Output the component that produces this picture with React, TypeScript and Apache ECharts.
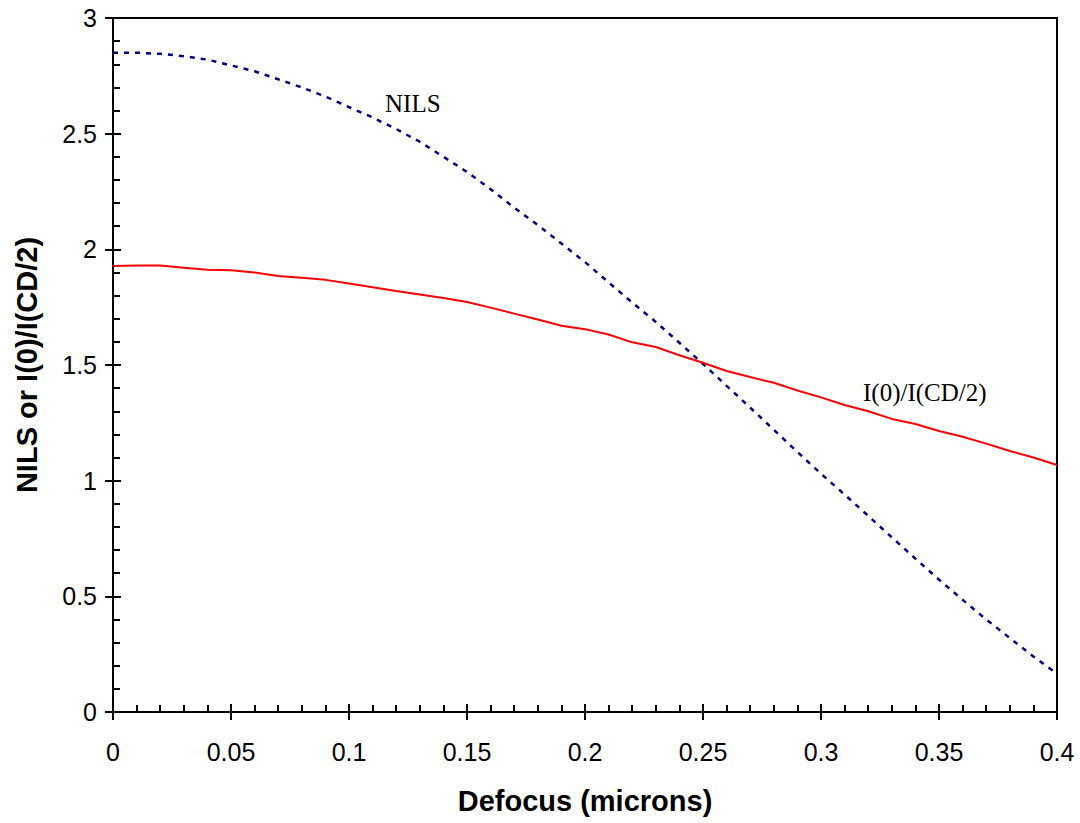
import React, { useEffect, useRef } from "react";
import * as echarts from "echarts";

const defocus = [
  0, 0.01, 0.02, 0.03, 0.04, 0.05, 0.06, 0.07, 0.08, 0.09,
  0.1, 0.11, 0.12, 0.13, 0.14, 0.15, 0.16, 0.17, 0.18, 0.19,
  0.2, 0.21, 0.22, 0.23, 0.24, 0.25, 0.26, 0.27, 0.28, 0.29,
  0.3, 0.31, 0.32, 0.33, 0.34, 0.35, 0.36, 0.37, 0.38, 0.39, 0.4,
];

const nils = [
  2.85, 2.85, 2.845, 2.835, 2.82, 2.795, 2.77, 2.735, 2.7, 2.66,
  2.615, 2.57, 2.52, 2.465, 2.4, 2.335, 2.26, 2.18, 2.105, 2.025,
  1.945, 1.857, 1.77, 1.686, 1.596, 1.505, 1.41, 1.316, 1.22, 1.124,
  1.03, 0.94, 0.848, 0.755, 0.663, 0.572, 0.485, 0.4, 0.32, 0.24, 0.165,
];

const intensityRatio = [
  1.928, 1.93, 1.93, 1.92, 1.912, 1.91, 1.9, 1.885, 1.877, 1.868,
  1.852, 1.836, 1.82, 1.805, 1.79, 1.772, 1.748, 1.722, 1.697, 1.67,
  1.655, 1.632, 1.598, 1.578, 1.542, 1.51, 1.474, 1.448, 1.423, 1.39,
  1.36, 1.327, 1.3, 1.267, 1.245, 1.215, 1.19, 1.16, 1.128, 1.1, 1.068,
];

const xTitle = "Defocus (microns)";
const yTitle = "NILS or I(0)/I(CD/2)";
const nilsLabel = "NILS";
const ratioLabel = "I(0)/I(CD/2)";

export default function App() {
  const ref = useRef<HTMLDivElement>(null);
  useEffect(() => {
    if (!ref.current) return;
    const chart = echarts.init(ref.current, null, { renderer: "svg" });
    const axisLine = { show: true, lineStyle: { color: "#000", width: 2 } };
    const labelFont = { color: "#000", fontFamily: "Liberation Sans, Arial, sans-serif", fontSize: 25 };
    const titleFont = { color: "#000", fontFamily: "Liberation Sans, Arial, sans-serif", fontWeight: "bold", fontSize: 29 };
    chart.setOption({
      animation: false,
      backgroundColor: "#fff",
      grid: {
        left: 113, right: 23, top: 18, bottom: 111,
        show: true, borderColor: "#000", borderWidth: 2, containLabel: false,
      },
      xAxis: [
        {
          type: "value", position: "bottom", min: 0, max: 0.4, interval: 0.05,
          axisLine,
          axisTick: { show: true, inside: false, length: 8, lineStyle: { color: "#000", width: 2 } },
          axisLabel: { ...labelFont, margin: 27 },
          splitLine: { show: false },
          name: xTitle, nameLocation: "middle", nameGap: 74,
          nameTextStyle: titleFont,
        },
        {
          type: "value", position: "bottom", min: 0, max: 0.4, interval: 0.05,
          axisLine,
          axisTick: { show: true, inside: true, length: 8, lineStyle: { color: "#000", width: 2 } },
          minorTick: { show: true, splitNumber: 5, length: 7, lineStyle: { color: "#000", width: 2 } },
          axisLabel: { show: false },
          splitLine: { show: false },
        },
      ],
      yAxis: [
        {
          type: "value", position: "left", min: 0, max: 3, interval: 0.5,
          axisLine,
          axisTick: { show: true, inside: false, length: 8, lineStyle: { color: "#000", width: 2 } },
          axisLabel: { ...labelFont, margin: 16 },
          splitLine: { show: false },
          name: yTitle, nameLocation: "middle", nameGap: 72,
          nameTextStyle: titleFont,
        },
        {
          type: "value", position: "left", min: 0, max: 3, interval: 0.5,
          axisLine,
          axisTick: { show: true, inside: true, length: 8, lineStyle: { color: "#000", width: 2 } },
          minorTick: { show: true, splitNumber: 5, length: 7, lineStyle: { color: "#000", width: 2 } },
          axisLabel: { show: false },
          splitLine: { show: false },
        },
      ],
      series: [
        {
          name: nilsLabel, type: "line", xAxisIndex: 0, yAxisIndex: 0,
          data: defocus.map((x, i) => [x, nils[i]]),
          showSymbol: false, symbol: "none",
          lineStyle: { color: "#000080", width: 2.5, type: [5, 6] },
        },
        {
          name: ratioLabel, type: "line", xAxisIndex: 0, yAxisIndex: 0,
          data: defocus.map((x, i) => [x, intensityRatio[i]]),
          showSymbol: false, symbol: "none",
          lineStyle: { color: "#ff0000", width: 2 },
        },
      ],
      graphic: [
        { type: "text", left: 385, top: 91, style: { text: nilsLabel, fill: "#000", font: "25px 'Liberation Serif', 'Times New Roman', serif" } },
        { type: "text", left: 863, top: 380, style: { text: ratioLabel, fill: "#000", font: "25px 'Liberation Serif', 'Times New Roman', serif" } },
      ],
    });
    return () => chart.dispose();
  }, []);
  return <div ref={ref} style={{ width: 1080, height: 823, position: "absolute", left: 0, top: 0 }} />;
}
